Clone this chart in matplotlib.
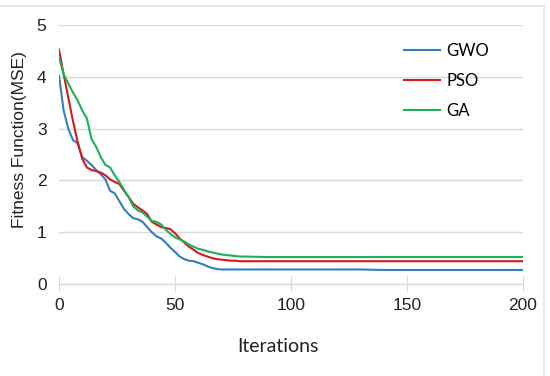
import matplotlib
matplotlib.use("Agg")
import matplotlib.pyplot as plt
from matplotlib.lines import Line2D

iterations = [0, 2, 4, 6, 8, 10, 12, 14, 16, 18, 20, 22, 24, 26, 28, 30, 32, 34, 36, 38,
              40, 42, 44, 46, 48, 50, 52, 54, 56, 58, 60, 62, 64, 66, 68, 70, 72, 74, 76, 78,
              80, 90, 100, 110, 120, 130, 140, 150, 160, 170, 180, 190, 200]

gwo = [4.02, 3.35, 3.00, 2.78, 2.72, 2.45, 2.38, 2.30, 2.20, 2.12, 2.02, 1.80, 1.75, 1.60, 1.45,
       1.35, 1.27, 1.25, 1.20, 1.10, 1.00, 0.92, 0.88, 0.80, 0.70, 0.62, 0.53, 0.48, 0.45, 0.44,
       0.41, 0.38, 0.34, 0.31, 0.29, 0.28, 0.28, 0.28, 0.28, 0.28, 0.28, 0.28, 0.28, 0.28, 0.28,
       0.28, 0.27, 0.27, 0.27, 0.27, 0.27, 0.27, 0.27]

pso = [4.52, 4.05, 3.60, 3.15, 2.75, 2.42, 2.25, 2.20, 2.18, 2.15, 2.10, 2.02, 1.97, 1.93, 1.80,
       1.68, 1.55, 1.48, 1.42, 1.35, 1.20, 1.15, 1.10, 1.08, 1.06, 0.98, 0.88, 0.80, 0.72, 0.66,
       0.60, 0.56, 0.53, 0.50, 0.48, 0.47, 0.46, 0.45, 0.45, 0.44, 0.44, 0.44, 0.44, 0.44, 0.44,
       0.44, 0.44, 0.44, 0.44, 0.44, 0.44, 0.44, 0.44]

ga = [4.37, 4.05, 3.87, 3.70, 3.55, 3.35, 3.20, 2.80, 2.65, 2.45, 2.30, 2.25, 2.10, 1.97, 1.82,
      1.68, 1.50, 1.42, 1.38, 1.30, 1.22, 1.20, 1.15, 1.05, 0.97, 0.90, 0.86, 0.82, 0.76, 0.72,
      0.68, 0.66, 0.63, 0.61, 0.59, 0.57, 0.56, 0.55, 0.54, 0.53, 0.53, 0.52, 0.52, 0.52, 0.52,
      0.52, 0.52, 0.52, 0.52, 0.52, 0.52, 0.52, 0.52]

series_names = ["GWO", "PSO", "GA"]
colors = ["#2f7fc1", "#d7191c", "#1bb15a"]
x_ticks = [0, 50, 100, 150, 200]
y_ticks = [0, 1, 2, 3, 4, 5]

fig = plt.figure(figsize=(5.5, 3.76), dpi=100)
ax = fig.add_axes([59/550, 1-284/376, (523-59)/550, (284-25)/376])

for vals, c, name in zip([gwo, pso, ga], colors, series_names):
    ax.plot(iterations, vals, color=c, lw=1.5, label=name, solid_joinstyle="round")

ax.set_xlim(0, 200)
ax.set_ylim(0, 5)
ax.set_xticks(x_ticks)
ax.set_yticks(y_ticks)
ax.grid(axis="y", color="#d9d9d9", lw=1)
ax.set_axisbelow(True)
for s in ["top", "right", "left"]:
    ax.spines[s].set_visible(False)
ax.spines["bottom"].set_color("#d9d9d9")
ax.tick_params(axis="y", length=0, pad=9, labelsize=12.5, labelcolor="#222222")
ax.tick_params(axis="x", length=12, direction="inout", color="#d9d9d9", pad=4, labelsize=12.5, labelcolor="#222222")
for lab in ax.get_xticklabels() + ax.get_yticklabels():
    lab.set_fontfamily("Liberation Sans")

ax.set_xlabel("Iterations", fontsize=14, fontfamily="Lato", color="#222222")
ax.xaxis.set_label_coords((278-59)/464, -(347-284)/259, transform=ax.transAxes)
ax.xaxis.label.set_verticalalignment("center")
ax.set_ylabel("Fitness Function(MSE)", fontsize=12.5, fontfamily="Liberation Sans", color="#222222")
ax.yaxis.set_label_coords(-(59-20)/464, (284-140)/259, transform=ax.transAxes)
ax.yaxis.label.set_verticalalignment("center")

leg = ax.legend(loc="upper right", bbox_to_anchor=((504-59)/464, 0.99), frameon=False,
                prop={"family": "Lato", "size": 12}, handlelength=2.2, labelspacing=0.85,
                handletextpad=0.35)

# light border lines (top and right) like the reference image frame
fig.add_artist(Line2D([0, 544/550], [1-6/376, 1-6/376], transform=fig.transFigure, color="#e3e3e3", lw=1.2))
fig.add_artist(Line2D([544/550, 544/550], [0, 1-6/376], transform=fig.transFigure, color="#e3e3e3", lw=1.2))

fig.savefig("out.png", dpi=100)
